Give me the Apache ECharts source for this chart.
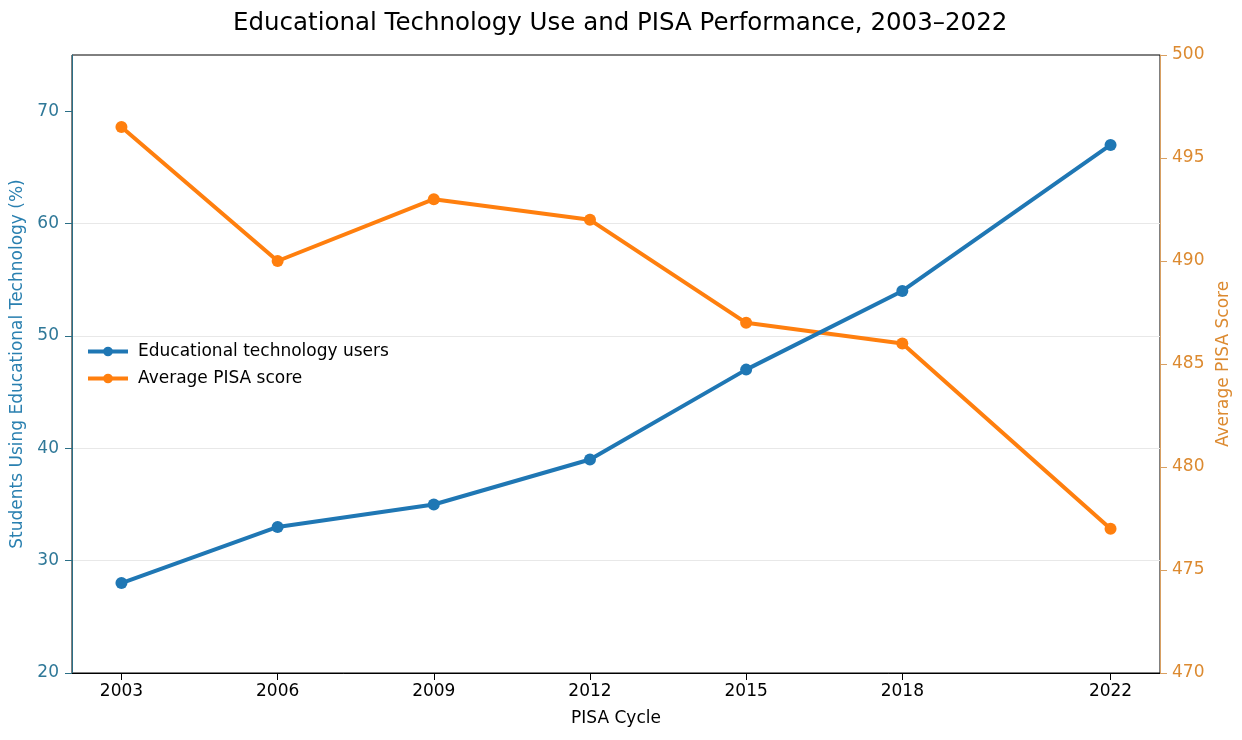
<!DOCTYPE html>
<html>
<head>
<meta charset="utf-8">
<script src="https://cdn.jsdelivr.net/npm/echarts@6/dist/echarts.min.js"></script>
<style>
html,body{margin:0;padding:0;background:#fff;}
#chart{width:1242px;height:740px;}
</style>
</head>
<body>
<div id="chart"></div>
<script>
var years = [2003, 2006, 2009, 2012, 2015, 2018, 2022];
var techUsers = [28, 33, 35, 39, 47, 54, 67];
var pisaScore = [496.5, 490, 493, 492, 487, 486, 477];
var leftTicks = [20, 30, 40, 50, 60, 70];

var blue = '#1f77b4', orange = '#ff7f0e';
var blueText = '#2f7898', orangeText = '#dc8a30';
var font = 'DejaVu Sans';

function pairs(xs, ys) {
    var out = [];
    for (var i = 0; i < xs.length; i++) out.push([xs[i], ys[i]]);
    return out;
}

var myChart = echarts.init(document.getElementById('chart'));
myChart.setOption({
    animation: false,
    textStyle: { fontFamily: font },
    title: {
        text: 'Educational Technology Use and PISA Performance, 2003–2022',
        left: 228,
        top: 6,
        textStyle: { fontFamily: font, fontSize: 24.5, fontWeight: 'normal', color: '#000' }
    },
    legend: {
        orient: 'vertical',
        left: 81,
        top: 338,
        itemWidth: 40,
        itemHeight: 12,
        itemGap: 10,
        lineStyle: { width: 4 },
        textStyle: { fontFamily: font, fontSize: 17, color: '#000', padding: [0, 0, 0, 5] },
        data: ['Educational technology users', 'Average PISA score']
    },
    grid: {
        left: 72, right: 82, top: 55, bottom: 67,
        show: true, borderColor: '#000', borderWidth: 1
    },
    xAxis: {
        type: 'value',
        min: 2002.05,
        max: 2022.95,
        name: 'PISA Cycle',
        nameLocation: 'middle',
        nameGap: 37,
        nameTextStyle: { fontSize: 17, color: '#000' },
        axisLine: { lineStyle: { color: '#000' } },
        axisTick: { show: true, length: 7, customValues: years, lineStyle: { color: '#000' } },
        axisLabel: { customValues: years, fontSize: 17, color: '#000', margin: 10,
            formatter: function (v) { return String(Math.round(v)); } },
        splitLine: { show: false }
    },
    yAxis: [{
        type: 'value',
        min: 20,
        max: 75,
        interval: 10,
        position: 'left',
        name: 'Students Using Educational Technology (%)',
        nameLocation: 'middle',
        nameGap: 46,
        nameTextStyle: { fontSize: 17, color: '#2a80b0' },
        axisLine: { show: true, lineStyle: { color: '#2b6f86' } },
        axisTick: { show: true, length: 7, customValues: leftTicks, lineStyle: { color: '#2b6f86' } },
        axisLabel: { customValues: leftTicks, fontSize: 17, color: blueText, margin: 13 },
        splitLine: { show: true, showMinLine: false, showMaxLine: false,
            lineStyle: { color: '#e8e8e8', width: 1 } }
    }, {
        type: 'value',
        min: 470,
        max: 500,
        interval: 5,
        position: 'right',
        name: 'Average PISA Score',
        nameLocation: 'middle',
        nameGap: 52,
        nameTextStyle: { fontSize: 17, color: orangeText },
        axisLine: { show: true, lineStyle: { color: '#d9a062' } },
        axisTick: { show: true, length: 7, lineStyle: { color: '#d9a062' } },
        axisLabel: { fontSize: 17, color: orangeText, margin: 12 },
        splitLine: { show: false }
    }],
    series: [{
        name: 'Educational technology users',
        type: 'line',
        yAxisIndex: 0,
        data: pairs(years, techUsers),
        symbol: 'circle',
        symbolSize: 12,
        lineStyle: { color: blue, width: 4 },
        itemStyle: { color: blue },
        z: 3
    }, {
        name: 'Average PISA score',
        type: 'line',
        yAxisIndex: 1,
        data: pairs(years, pisaScore),
        symbol: 'circle',
        symbolSize: 12,
        lineStyle: { color: orange, width: 4 },
        itemStyle: { color: orange },
        z: 2
    }]
});
</script>
</body>
</html>
